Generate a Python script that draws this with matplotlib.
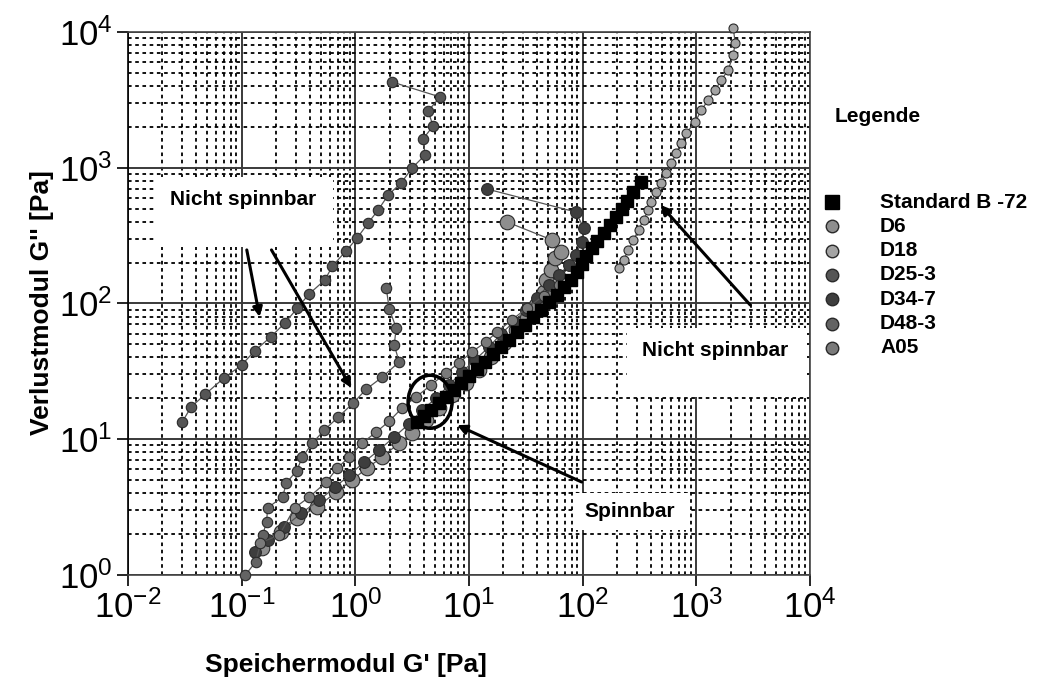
import numpy as np
import matplotlib.pyplot as plt
from matplotlib.patches import Rectangle, Ellipse
from matplotlib.lines import Line2D
from matplotlib.ticker import FixedLocator, NullFormatter, LogFormatterMathtext

plt.rcParams['font.family'] = ['Liberation Sans', 'DejaVu Sans']
plt.rcParams['mathtext.fontset'] = 'custom'
plt.rcParams['mathtext.rm'] = 'Liberation Sans'
plt.rcParams['mathtext.it'] = 'Liberation Sans:italic'
plt.rcParams['mathtext.bf'] = 'Liberation Sans:bold'

# G' (x) and G'' (y) in Pa
std_x = [3.50, 4.03, 4.64, 5.45, 6.28, 7.38, 8.51, 10.0, 11.8, 13.8, 16.2, 19.1, 22.4, 26.4, 31.0, 36.4,
         42.8, 50.3, 59.2, 68.1, 78.5, 88.5, 98.0, 108, 122, 135, 153, 173, 195, 220, 248, 280, 323]
std_y = [13.4, 14.8, 16.4, 18.5, 20.5, 23.1, 25.9, 29.2, 32.9, 37.1, 42.5, 47.8, 53.8, 61.7, 69.5, 79.6,
         89.6, 103, 116, 132, 149, 171, 195, 224, 256, 289, 331, 379, 434, 497, 569, 663, 785]

d6_x = [0.150, 0.224, 0.310, 0.464, 0.681, 0.942, 1.27, 1.73, 2.43, 3.16, 4.20, 5.45, 7.10, 9.42,
        12.2, 15.6, 20.3, 25.8, 32.3, 38.7, 45.5, 47.3, 52.4, 56.8, 64.1, 53.5, 21.5]
d6_y = [1.58, 2.07, 2.63, 3.17, 4.09, 5.01, 6.14, 7.40, 9.38, 11.1, 13.9, 17.0, 21.2, 25.9,
        32.4, 40.4, 51.2, 63.8, 78.2, 97.5, 122, 149, 177, 216, 239, 294, 399]

d18_x = [207, 229, 253, 280, 310, 343, 379, 403, 446, 493, 546, 604, 668, 738, 817, 979,
         1107, 1274, 1468, 1656, 1908, 2112, 2198, 2112]
d18_y = [183, 209, 248, 294, 348, 412, 489, 560, 663, 772, 915, 1084, 1284, 1521, 1803, 2173,
         2661, 3154, 3738, 4428, 5248, 6776, 8299, 10700]

d25_x = [0.030, 0.036, 0.048, 0.070, 0.10, 0.13, 0.18, 0.24, 0.31, 0.39, 0.54, 0.63, 0.83,
         1.04, 1.30, 1.59, 1.95, 2.53, 3.16, 4.11, 3.95, 4.83, 4.37, 5.57, 2.11]
d25_y = [13.4, 17.3, 21.5, 28.3, 35.2, 44.7, 56.6, 71.8, 92.6, 117, 149, 189, 244,
         304, 392, 489, 630, 772, 996, 1240, 1630, 2030, 2620, 3320, 4280]

d34_x = [0.130, 0.169, 0.238, 0.336, 0.483, 0.668, 0.886, 1.20, 1.62, 2.20, 2.98, 3.87, 5.14, 6.68,
         8.68, 11.3, 15.0, 19.1, 24.8, 31.6, 39.5, 50.3, 61.5, 75.4, 86.9, 98.0, 102, 86.9, 14.4]
d34_y = [1.48, 1.81, 2.26, 2.86, 3.57, 4.45, 5.45, 6.80, 8.33, 10.4, 13.0, 16.4, 20.1, 25.1,
         31.3, 38.4, 47.8, 59.6, 73.1, 89.6, 110, 137, 162, 192, 228, 284, 360, 472, 697]

d48_x = [0.108, 0.133, 0.153, 0.166, 0.169, 0.229, 0.248, 0.304, 0.343, 0.420, 0.535, 0.710,
         0.960, 1.25, 1.73, 2.43, 2.20, 2.29, 1.99, 1.87]
d48_y = [1.0, 1.25, 1.97, 2.46, 3.12, 3.76, 4.77, 5.84, 7.40, 9.38, 11.7, 14.6,
         18.5, 23.4, 28.7, 37.1, 49.5, 66.0, 91.0, 130]

a05_x = [0.144, 0.215, 0.292, 0.395, 0.557, 0.695, 0.885, 1.15, 1.53, 1.99, 2.58, 3.43, 4.64,
         6.28, 8.17, 10.6, 14.1, 17.6, 23.8, 32.3, 45.5, 61.5]
a05_y = [1.72, 1.97, 3.12, 3.76, 4.84, 6.14, 7.40, 9.38, 11.3, 13.6, 17.0, 20.5, 25.1,
         30.8, 36.5, 44.0, 52.0, 61.7, 75.6, 92.6, 114, 137]

x_ticks = [1e-2, 1e-1, 1e0, 1e1, 1e2, 1e3, 1e4]
y_ticks = [1e0, 1e1, 1e2, 1e3, 1e4]

labels = ["Standard B -72", "D6", "D18", "D25-3", "D34-7", "D48-3", "A05"]
xs = [std_x, d6_x, d18_x, d25_x, d34_x, d48_x, a05_x]
ys = [std_y, d6_y, d18_y, d25_y, d34_y, d48_y, a05_y]
markers = ['s', 'o', 'o', 'o', 'o', 'o', 'o']
faces = ['black', '#8e8e8e', '#a4a4a4', '#555555', '#3e3e3e', '#636363', '#7a7a7a']
sizes = [8.5, 10.5, 6.5, 7.5, 8.5, 7.5, 7.5]

fig = plt.figure(figsize=(10.48, 6.95), dpi=100)
ax = fig.add_axes([0.1221, 0.1727, 0.6508, 0.7813])
ax.set_xscale('log')
ax.set_yscale('log')
ax.set_xlim(1e-2, 1e4)
ax.set_ylim(1, 1e4)

minor_x = [m * t for t in x_ticks[:-1] for m in range(2, 10)]
minor_y = [m * t for t in y_ticks[:-1] for m in range(2, 10)]
ax.xaxis.set_major_locator(FixedLocator(x_ticks))
ax.yaxis.set_major_locator(FixedLocator(y_ticks))
ax.xaxis.set_minor_locator(FixedLocator(minor_x))
ax.yaxis.set_minor_locator(FixedLocator(minor_y))
for axis in (ax.xaxis, ax.yaxis):
    axis.set_minor_formatter(NullFormatter())
    axis.set_major_formatter(LogFormatterMathtext())

ax.grid(which='major', color='#3a3a3a', lw=1.4, ls='-')
ax.grid(which='minor', color='black', lw=1.3, ls=(0, (2, 2)))
ax.set_axisbelow(True)
ax.tick_params(which='major', direction='out', length=8, width=1.2, labelsize=25, pad=3)
ax.tick_params(which='minor', length=0)
for s in ax.spines.values():
    s.set_color('#444444')
    s.set_linewidth(1.2)
ax.spines['left'].set_color('black')

# white label boxes
boxes = [(0.0396, 0.604, 0.261, 0.129), (0.732, 0.328, 0.264, 0.127), (0.652, 0.083, 0.172, 0.068)]
for bx, by, bw, bh in boxes:
    ax.add_patch(Rectangle((bx, by), bw, bh, transform=ax.transAxes, fc='white', ec='none', zorder=3))
ax.text(0.169, 0.691, "Nicht spinnbar", transform=ax.transAxes, fontsize=15, weight='bold',
        ha='center', va='center', zorder=7)
ax.text(0.861, 0.414, "Nicht spinnbar", transform=ax.transAxes, fontsize=15, weight='bold',
        ha='center', va='center', zorder=7)
ax.text(0.736, 0.116, "Spinnbar", transform=ax.transAxes, fontsize=15, weight='bold',
        ha='center', va='center', zorder=7)

for x, y, m, fc, ms in zip(xs, ys, markers, faces, sizes):
    if m == 's':
        ax.plot(x, y, ls='none', marker='s', ms=ms, mfc='black', mec='black', zorder=5)
    else:
        ax.plot(x, y, ls='-', lw=0.9, color='#555555', marker='o', ms=ms, mfc=fc,
                mec='#2a2a2a', mew=0.8, zorder=4, clip_on=False)

# arrows and ellipse
arrows = [((0.144, 79.6), (0.111, 248)), ((0.922, 23.9), (0.183, 248)),
          ((483, 532), (2978, 97.5)), ((7.85, 12.7), (98, 4.84))]
for head, tail in arrows:
    ax.annotate('', xy=head, xytext=tail,
                arrowprops=dict(arrowstyle='-|>', lw=2.2, color='black', mutation_scale=14,
                                shrinkA=0, shrinkB=0), zorder=6)
ax.add_patch(Ellipse((0.443, 0.319), 0.0645, 0.0976, transform=ax.transAxes, fill=False,
                     lw=2.5, ec='black', zorder=6))

fig.text(0.040, 0.564, "Verlustmodul G'' [Pa]", rotation=90, fontsize=19, weight='bold',
         ha='center', va='center')
fig.text(0.33, 0.043, "Speichermodul G' [Pa]", fontsize=19, weight='bold', ha='center', va='center')

# legend
fig.text(835 / 1048, 1 - 117 / 695, "Legende", fontsize=15, weight='bold', va='center')
for i, (lab, m, fc) in enumerate(zip(labels, markers, faces)):
    yy = 1 - (202 + 24.3 * i) / 695
    if m == 's':
        fig.add_artist(Line2D([832 / 1048], [yy], marker='s', ms=10, mfc='black', mec='black', ls='none'))
    else:
        fig.add_artist(Line2D([832 / 1048], [yy], marker='o', ms=9, mfc=fc, mec='#2a2a2a', ls='none'))
    fig.text(880 / 1048, yy, lab, fontsize=15, weight='bold', va='center')

fig.savefig('out.png', dpi=100)
